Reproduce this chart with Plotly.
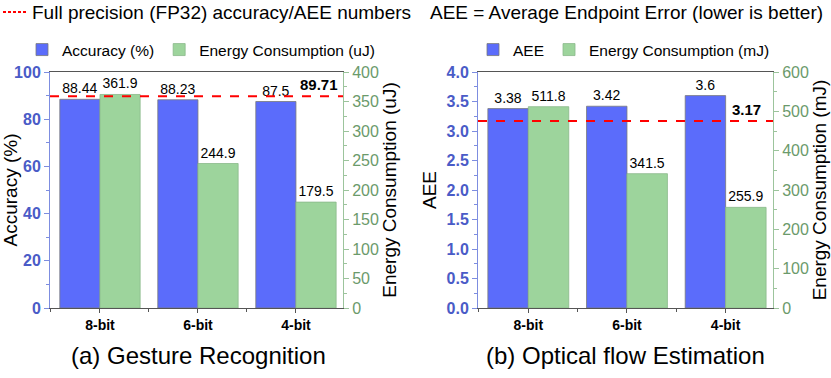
import plotly.graph_objects as go

bits = ["8-bit", "6-bit", "4-bit"]

accuracy = [88.44, 88.23, 87.5]
energy_gesture = [361.9, 244.9, 179.5]
fp32_accuracy = 89.71

aee = [3.38, 3.42, 3.6]
energy_flow = [511.8, 341.5, 255.9]
fp32_aee = 3.17

BLUE = "#5b6cfb"
GREEN = "#9dd49c"
BLUE_TXT = "#4a5bc7"
GREEN_TXT = "#6b9a6b"
FONT = "Liberation Sans"

W, H = 831, 378
xpos = list(range(len(bits)))

fig = go.Figure()


def add_panel(xa, ya, ya2, vals, energy, blue_name, green_name, legend):
    fig.add_trace(go.Bar(
        x=xpos, y=vals, name=blue_name, xaxis=xa, yaxis=ya,
        width=0.41, offset=-0.41,
        marker=dict(color=BLUE, line=dict(color="#7a7a7a", width=0.8)),
        text=[f"{v:g}" for v in vals], textposition="outside",
        textfont=dict(size=14, color="black", family=FONT),
        constraintext="none", cliponaxis=False, legend=legend,
    ))
    fig.add_trace(go.Bar(
        x=xpos, y=energy, name=green_name, xaxis=xa, yaxis=ya2,
        width=0.41, offset=0,
        marker=dict(color=GREEN, line=dict(color="#8ab98a", width=0.8)),
        text=[f"{v:.1f}" for v in energy], textposition="outside",
        textfont=dict(size=14, color="black", family=FONT),
        constraintext="none", cliponaxis=False, legend=legend,
    ))


add_panel("x", "y", "y2", accuracy, energy_gesture,
          "Accuracy (%)", "Energy Consumption (uJ)", "legend")
add_panel("x2", "y3", "y4", aee, energy_flow,
          "AEE", "Energy Consumption (mJ)", "legend2")

# red dashed FP32 reference lines
for xa, ya, val, xlab in [("x", "y", fp32_accuracy, 0.99), ("x2", "y3", fp32_aee, 0.965)]:
    fig.add_shape(type="line", xref=f"{xa} domain", yref=ya, x0=0, x1=1,
                  y0=val, y1=val, line=dict(color="red", width=2, dash="dash"))
    fig.add_annotation(xref=f"{xa} domain", yref=ya, x=xlab, y=val,
                       text=f"<b>{val}</b>", showarrow=False, xanchor="right",
                       yanchor="bottom", yshift=1,
                       font=dict(size=15, color="black", family=FONT))

# top key line
fig.add_shape(type="line", xref="paper", yref="paper", x0=3 / W, x1=28 / W,
              y0=1 - 12 / H, y1=1 - 12 / H, line=dict(color="red", width=2, dash="3px,2px"))
fig.add_annotation(xref="paper", yref="paper", x=30 / W, y=1 - 12 / H,
                   xanchor="left", yanchor="middle", showarrow=False,
                   text="Full precision (FP32) accuracy/AEE numbers",
                   font=dict(size=19, color="black", family=FONT))
fig.add_annotation(xref="paper", yref="paper", x=428 / W, y=1 - 12 / H,
                   xanchor="left", yanchor="middle", showarrow=False,
                   text="AEE = Average Endpoint Error (lower is better)",
                   font=dict(size=19, color="black", family=FONT))

for x, txt in [(198 / W, "(a) Gesture Recognition"), (625 / W, "(b) Optical flow Estimation")]:
    fig.add_annotation(xref="paper", yref="paper", x=x, y=1 - 355 / H,
                       xanchor="center", yanchor="middle", showarrow=False, text=txt,
                       font=dict(size=24, color="black", family=FONT))

ydom = [1 - 308 / H, 1 - 72 / H]

xcommon = dict(
    range=[-0.51, 2.48], tickvals=xpos, ticktext=[f"<b>{b}</b>" for b in bits],
    ticks="outside", ticklen=4, tickcolor="#555", showline=True, linecolor="#555",
    mirror=True, showgrid=False, zeroline=False,
    tickfont=dict(size=14, color="black", family=FONT),
    minor=dict(dtick=0.5, tick0=0.5, ticks="outside", ticklen=3, tickcolor="#555"),
)


def left_axis(rng, dtick, title, fmt, xa):
    return dict(
        domain=ydom, anchor=xa, range=rng, dtick=dtick, tickformat=fmt,
        showgrid=False, zeroline=False, showline=True, linecolor="#7d8de0",
        ticks="outside", ticklen=5, tickcolor="#7d8de0",
        minor=dict(dtick=dtick / 2, ticks="outside", ticklen=3, tickcolor="#7d8de0"),
        tickfont=dict(size=16, color=BLUE_TXT, family=FONT, weight="bold"),
        title=dict(text=title, font=dict(size=19, color="black", family=FONT), standoff=4),
        automargin=False,
    )


def right_axis(rng, dtick, title, overlay, xa):
    return dict(
        overlaying=overlay, side="right", anchor=xa, range=rng, dtick=dtick,
        showgrid=False, zeroline=False, showline=True, linecolor="#9cc49c",
        ticks="outside", ticklen=5, tickcolor="#9cc49c",
        minor=dict(dtick=dtick / 2, ticks="outside", ticklen=3, tickcolor="#9cc49c"),
        tickfont=dict(size=16, color=GREEN_TXT, family=FONT),
        title=dict(text=title, font=dict(size=19, color="black", family=FONT), standoff=4),
        automargin=False,
    )


legend_common = dict(orientation="h", yanchor="middle", font=dict(size=15.5, family=FONT),
                     itemwidth=30, bgcolor="rgba(0,0,0,0)")

fig.update_layout(
    width=W, height=H,
    margin=dict(l=0, r=0, t=0, b=0),
    plot_bgcolor="white", paper_bgcolor="white",
    barmode="overlay",
    font=dict(family=FONT, color="black"),
    xaxis=dict(domain=[50 / W, 343 / W], anchor="y", **xcommon),
    xaxis2=dict(domain=[478 / W, 773 / W], anchor="y3", **xcommon),
    yaxis=left_axis([0, 100], 20, "Accuracy (%)", None, "x"),
    yaxis2=right_axis([0, 400], 50, "Energy Consumption (uJ)", "y", "x"),
    yaxis3=left_axis([0, 4], 0.5, "AEE", ".1f", "x2"),
    yaxis4=right_axis([0, 600], 100, "Energy Consumption (mJ)", "y3", "x2"),
    legend=dict(x=22 / W, y=1 - 50 / H, **legend_common),
    legend2=dict(x=473 / W, y=1 - 50 / H, **legend_common),
)

# drop the browser's default 8px body margin so the figure sits at the page origin
fig.write_html("out.html", config={"displayModeBar": False},
               post_script="document.body.style.margin='0';")
